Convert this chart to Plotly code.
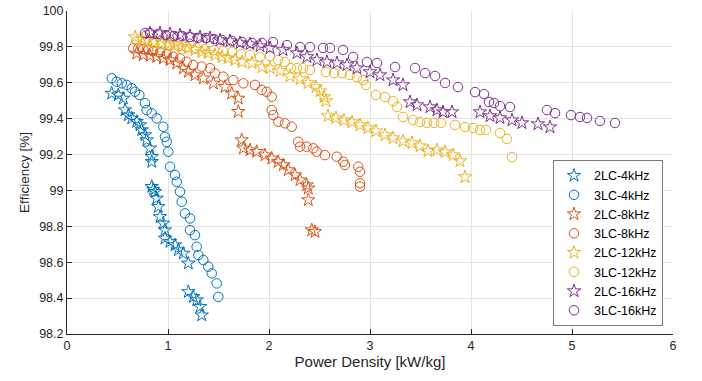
import plotly.graph_objects as go

# ---- data (Power Density [kW/kg], Efficiency [%]) ----
lc2_4k_x = [0.443, 0.508, 0.557, 0.574, 0.607, 0.641, 0.690, 0.723, 0.740, 0.772, 0.789, 0.822, 0.839, 0.839,
            0.839, 0.855, 0.871, 0.888, 0.904, 0.921, 0.953, 0.970, 0.970, 1.020, 1.069, 1.102, 1.151, 1.201,
            1.201, 1.250, 1.284, 1.317, 1.334]
lc2_4k_y = [99.541, 99.532, 99.513, 99.448, 99.420, 99.402, 99.383, 99.365, 99.337, 99.309, 99.281, 99.235, 99.188, 99.160,
            99.021, 99.005, 98.993, 98.956, 98.909, 98.853, 98.817, 98.779, 98.733, 98.714, 98.696, 98.668, 98.649, 98.594,
            98.435, 98.407, 98.389, 98.352, 98.305]

lc3_4k_x = [0.443, 0.492, 0.542, 0.591, 0.641, 0.673, 0.716, 0.772, 0.789, 0.839, 0.888, 0.953, 0.970, 0.987,
            1.003, 1.020, 1.069, 1.086, 1.119, 1.136, 1.168, 1.218, 1.218, 1.267, 1.284, 1.300, 1.350, 1.399,
            1.433, 1.482, 1.498]
lc3_4k_y = [99.625, 99.606, 99.597, 99.588, 99.569, 99.550, 99.532, 99.486, 99.448, 99.430, 99.402, 99.355, 99.299, 99.271,
            99.216, 99.132, 99.086, 99.048, 98.993, 98.937, 98.872, 98.844, 98.779, 98.751, 98.686, 98.640, 98.612, 98.575,
            98.538, 98.482, 98.407]

lc2_8k_x = [0.690, 0.755, 0.822, 0.888, 0.953, 1.020, 1.086, 1.151, 1.201, 1.267, 1.350, 1.449, 1.564, 1.631,
            1.696, 1.696,
            1.730, 1.746, 1.812, 1.878, 1.960, 2.027, 2.092, 2.142, 2.191, 2.257, 2.307, 2.373, 2.389, 2.389,
            2.423, 2.455]
lc2_8k_y = [99.764, 99.755, 99.751, 99.745, 99.736, 99.727, 99.708, 99.681, 99.662, 99.643, 99.625, 99.597, 99.578, 99.541,
            99.513, 99.439,
            99.281, 99.235, 99.225, 99.216, 99.197, 99.179, 99.160, 99.142, 99.114, 99.086, 99.058, 99.030, 99.012, 98.947,
            98.779, 98.770]

lc3_8k_x = [0.656, 0.706, 0.755, 0.805, 0.854, 0.921, 0.987, 1.052, 1.119, 1.185, 1.250, 1.334, 1.416, 1.465,
            1.548, 1.647, 1.746, 1.861, 1.928, 1.977, 2.027, 2.027, 2.043, 2.092, 2.158, 2.225, 2.290, 2.307,
            2.373, 2.439, 2.472, 2.554, 2.670, 2.736, 2.752, 2.884, 2.901, 2.901, 2.901]
lc3_8k_y = [99.792, 99.792, 99.788, 99.783, 99.777, 99.770, 99.759, 99.745, 99.736, 99.717, 99.699, 99.690, 99.681, 99.653,
            99.634, 99.615, 99.597, 99.588, 99.560, 99.550, 99.522, 99.448, 99.420, 99.383, 99.374, 99.355, 99.271, 99.244,
            99.244, 99.235, 99.216, 99.197, 99.188, 99.160, 99.142, 99.132, 99.104, 99.040, 99.021]

lc2_12k_x = [0.673, 0.743, 0.802, 0.871, 0.941, 1.000, 1.069, 1.139, 1.198, 1.267, 1.337, 1.396, 1.465, 1.535,
             1.594, 1.663, 1.733, 1.832, 1.931, 2.010, 2.109, 2.208, 2.307, 2.386, 2.465, 2.505, 2.545, 2.564,
             2.584, 2.663, 2.743, 2.822, 2.901, 2.980, 3.059, 3.149, 3.228, 3.327, 3.416, 3.495, 3.574, 3.663,
             3.743, 3.822, 3.891, 3.941]
lc2_12k_y = [99.855, 99.844, 99.838, 99.827, 99.822, 99.816, 99.810, 99.799, 99.794, 99.783, 99.771, 99.766, 99.755, 99.744,
             99.738, 99.727, 99.716, 99.710, 99.688, 99.682, 99.666, 99.638, 99.621, 99.599, 99.576, 99.554, 99.521, 99.498,
             99.415, 99.404, 99.392, 99.381, 99.365, 99.348, 99.331, 99.309, 99.292, 99.275, 99.264, 99.247, 99.220, 99.225,
             99.214, 99.197, 99.164, 99.075]

lc3_12k_x = [0.693, 0.772, 0.851, 0.931, 1.020, 1.099, 1.188, 1.277, 1.366, 1.455, 1.545, 1.634, 1.723, 1.812,
             1.911, 2.010, 2.089, 2.158, 2.218, 2.277, 2.337, 2.406, 2.564, 2.644, 2.723, 2.802, 2.871, 2.931,
             2.960, 3.059, 3.149, 3.228, 3.267, 3.327, 3.426, 3.495, 3.564, 3.634, 3.703, 3.842, 3.941, 4.020,
             4.089, 4.149, 4.287, 4.356, 4.406]
lc3_12k_y = [99.833, 99.827, 99.822, 99.816, 99.810, 99.805, 99.799, 99.794, 99.788, 99.783, 99.777, 99.771, 99.760, 99.755,
             99.744, 99.749, 99.727, 99.716, 99.682, 99.682, 99.682, 99.671, 99.660, 99.654, 99.654, 99.643, 99.632, 99.615,
             99.588, 99.532, 99.521, 99.498, 99.465, 99.409, 99.392, 99.381, 99.376, 99.376, 99.376, 99.365, 99.353, 99.348,
             99.337, 99.337, 99.320, 99.287, 99.186]

lc2_16k_x = [0.822, 0.921, 1.020, 1.119, 1.218, 1.317, 1.416, 1.515, 1.614, 1.713, 1.812, 1.911, 2.010, 2.139,
             2.277, 2.376, 2.475, 2.574, 2.673, 2.772, 2.871, 3.000, 3.099, 3.228, 3.327, 3.396, 3.465, 3.594,
             3.663, 3.723, 3.812, 4.089, 4.188, 4.287, 4.406, 4.505, 4.663, 4.782]
lc2_16k_y = [99.877, 99.877, 99.872, 99.866, 99.861, 99.855, 99.850, 99.838, 99.833, 99.822, 99.816, 99.805, 99.794, 99.783,
             99.766, 99.744, 99.727, 99.716, 99.710, 99.699, 99.682, 99.660, 99.643, 99.615, 99.588, 99.493, 99.476, 99.465,
             99.448, 99.437, 99.437, 99.437, 99.415, 99.404, 99.392, 99.376, 99.370, 99.353]

lc3_16k_x = [0.772, 0.822, 0.901, 0.980, 1.059, 1.139, 1.218, 1.297, 1.376, 1.455, 1.535, 1.634, 1.733, 1.832,
             1.931, 2.040, 2.178, 2.307, 2.406, 2.535, 2.604, 2.733, 2.832, 2.970, 3.069, 3.248, 3.446, 3.545,
             3.644, 3.743, 3.871, 4.040, 4.129, 4.178, 4.228, 4.287, 4.386, 4.752, 4.832, 4.990, 5.079, 5.149,
             5.277, 5.426]
lc3_16k_y = [99.877, 99.877, 99.872, 99.866, 99.861, 99.861, 99.855, 99.850, 99.850, 99.844, 99.838, 99.833, 99.827, 99.822,
             99.822, 99.827, 99.810, 99.799, 99.799, 99.794, 99.794, 99.783, 99.744, 99.716, 99.710, 99.688, 99.682, 99.654,
             99.638, 99.599, 99.576, 99.548, 99.537, 99.493, 99.487, 99.470, 99.465, 99.448, 99.431, 99.420, 99.409, 99.404,
             99.387, 99.376]

x_ticks = [0, 1, 2, 3, 4, 5, 6]
y_ticks = [98.2, 98.4, 98.6, 98.8, 99.0, 99.2, 99.4, 99.6, 99.8, 100.0]
y_tick_labels = ["98.2", "98.4", "98.6", "98.8", "99", "99.2", "99.4", "99.6", "99.8", "100"]

series = [
    ("2LC-4kHz", lc2_4k_x, lc2_4k_y, "star-open", "#0072BD"),
    ("3LC-4kHz", lc3_4k_x, lc3_4k_y, "circle-open", "#0072BD"),
    ("2LC-8kHz", lc2_8k_x, lc2_8k_y, "star-open", "#D95319"),
    ("3LC-8kHz", lc3_8k_x, lc3_8k_y, "circle-open", "#D95319"),
    ("2LC-12kHz", lc2_12k_x, lc2_12k_y, "star-open", "#EDB120"),
    ("3LC-12kHz", lc3_12k_x, lc3_12k_y, "circle-open", "#EDB120"),
    ("2LC-16kHz", lc2_16k_x, lc2_16k_y, "star-open", "#7E2F8E"),
    ("3LC-16kHz", lc3_16k_x, lc3_16k_y, "circle-open", "#7E2F8E"),
]

fig = go.Figure()
for name, xs, ys, sym, col in series:
    fig.add_trace(go.Scatter(
        x=xs, y=ys, mode="markers", name=name,
        marker=dict(symbol=sym, size=10 if sym.startswith("star") else 9.5,
                    color=col, line=dict(color=col, width=1)),
    ))

font_family = "Liberation Sans, Arial, Helvetica, sans-serif"
fig.update_layout(
    width=702, height=381,
    margin=dict(l=67, r=29, t=11, b=47, autoexpand=False),
    paper_bgcolor="white", plot_bgcolor="white",
    font=dict(family=font_family, size=12, color="#262626"),
    showlegend=True,
    hovermode=False,
    legend=dict(
        x=0.9835, y=0.025, xanchor="right", yanchor="bottom",
        bgcolor="white", bordercolor="#7a7a7a", borderwidth=1,
        font=dict(size=12.5, color="#000000"),
        tracegroupgap=0, itemwidth=30,
    ),
    xaxis=dict(
        range=[0, 6], tickmode="array", tickvals=x_ticks,
        ticktext=[str(v) for v in x_ticks], automargin=False,
        ticklabeloverflow="allow",
        showgrid=True, gridcolor="#e3e3e3", gridwidth=1,
        zeroline=False, showline=True, linecolor="#262626", linewidth=1,
        ticks="inside", ticklen=5, tickcolor="#262626",
        title=dict(text="Power Density [kW/kg]", font=dict(size=15), standoff=3),
        tickfont=dict(size=12.5),
    ),
    yaxis=dict(
        range=[98.2, 100], tickmode="array", tickvals=y_ticks, ticktext=y_tick_labels,
        automargin=False, ticklabeloverflow="allow",
        showgrid=True, gridcolor="#e3e3e3", gridwidth=1,
        zeroline=False, showline=True, linecolor="#262626", linewidth=1,
        ticks="inside", ticklen=5, tickcolor="#262626",
        title=dict(text="Efficiency [%]", font=dict(size=13.5), standoff=6),
        tickfont=dict(size=12.5),
    ),
)

# remove the default 8 px page margin so the figure sits at the window origin
fig.write_html("out.html", config={"displayModeBar": False},
               post_script="document.body.style.margin='0';")
